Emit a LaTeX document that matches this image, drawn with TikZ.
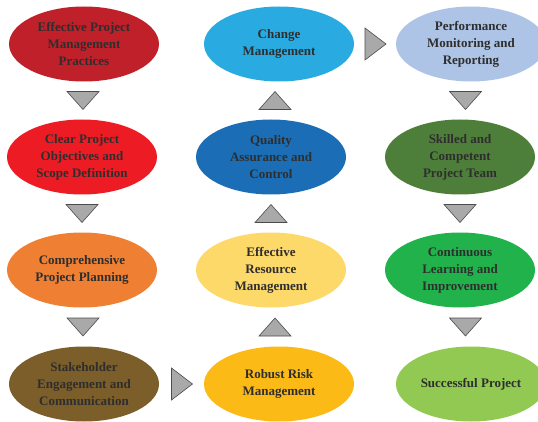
\documentclass[tikz,border=0pt]{standalone}
\usepackage{fontspec}
\setmainfont{Liberation Serif}
\usetikzlibrary{calc,shapes.geometric}

\definecolor{cRedDark}{HTML}{C0202A}
\definecolor{cRed}{HTML}{ED1C24}
\definecolor{cOrange}{HTML}{EF7F32}
\definecolor{cBrown}{HTML}{7B5E29}
\definecolor{cAmber}{HTML}{FBBA16}
\definecolor{cYellow}{HTML}{FDD96A}
\definecolor{cBlue}{HTML}{1B6DB5}
\definecolor{cSky}{HTML}{29ABE2}
\definecolor{cPale}{HTML}{AEC4E6}
\definecolor{cGreenDark}{HTML}{4E7F3A}
\definecolor{cGreen}{HTML}{22B24C}
\definecolor{cLime}{HTML}{92C952}
\definecolor{cTri}{HTML}{A9A9A9}
\definecolor{cText}{HTML}{2E2E2E}

\tikzset{
  stage/.style={ellipse, minimum width=150pt, minimum height=75pt, inner sep=0pt,
    align=center, text=cText, font=\fontsize{13}{17}\selectfont\bfseries},
  tri/.style={fill=cTri, draw=black!70, line width=0.6pt, line join=miter}
}

\begin{document}
\begin{tikzpicture}[x=1pt, y=-1pt]
    \useasboundingbox (0,0) rectangle (538,422);
    \clip (0,0) rectangle (538,422);

    % --- Column 1: going down ---
    \node[stage, fill=cRedDark] (P1) at (84,44) {Effective Project\\Management\\Practices};
    \node[stage, fill=cRed] (P2) at (82,157) {Clear Project\\Objectives and\\Scope Definition};
    \node[stage, fill=cOrange] (P3) at (82,270) {Comprehensive\\Project Planning};
    \node[stage, fill=cBrown] (P4) at (84,384) {Stakeholder\\Engagement and\\Communication};

    % --- Column 2: going up ---
    \node[stage, fill=cAmber] (Q1) at (279,384) {Robust Risk\\Management};
    \node[stage, fill=cYellow] (Q2) at (271,270) {Effective\\Resource\\Management};
    \node[stage, fill=cBlue] (Q3) at (271,157) {Quality\\Assurance and\\Control};
    \node[stage, fill=cSky] (Q4) at (279,44) {Change\\Management};

    % --- Column 3: going down ---
    \node[stage, fill=cPale] (R1) at (471,44) {Performance\\Monitoring and\\Reporting};
    \node[stage, fill=cGreenDark] (R2) at (460,157) {Skilled and\\Competent\\Project Team};
    \node[stage, fill=cGreen] (R3) at (460,270) {Continuous\\Learning and\\Improvement};
    \node[stage, fill=cLime] (R4) at (471,384) {Successful Project};

    % --- Triangles pointing down ---
    \foreach \a/\b in {P1/P2, P2/P3, P3/P4, R1/R2, R2/R3, R3/R4}
      \draw[tri] ($(\a.south)!0.5!(\b.north)$) ++(-16,-9) -- ++(32,0) -- ++(-16,18) -- cycle;

    % --- Triangles pointing up ---
    \foreach \a/\b in {Q1/Q2, Q2/Q3, Q3/Q4}
      \draw[tri] ($(\a.north)!0.5!(\b.south)$) ++(-16,9) -- ++(32,0) -- ++(-16,-18) -- cycle;

    % --- Triangles pointing right ---
    \foreach \a/\b in {P4/Q1, Q4/R1}
      \draw[tri] ($(\a.east)!0.5!(\b.west)$) ++(-10,-16) -- ++(0,32) -- ++(21,-16) -- cycle;

\end{tikzpicture}
\end{document}
